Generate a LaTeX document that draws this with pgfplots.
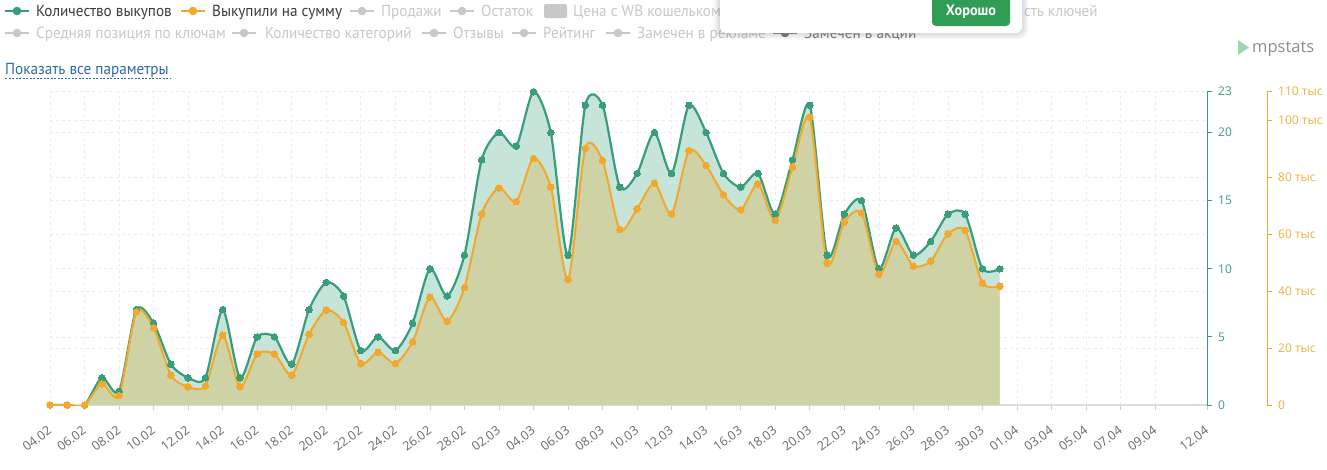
\documentclass[border=0pt]{standalone}
\usepackage{pgfplots}
\usepackage{pgfplotstable}
\pgfplotsset{compat=1.18}
\usepackage{fontspec}
\setmainfont{Open Sans}
\newfontfamily\legfont[FakeStretch=0.95]{PT Sans}
\newfontfamily\numfont{Open Sans}
\definecolor{greenc}{HTML}{3A9D7A}
\definecolor{orangec}{HTML}{F2A82C}
\definecolor{orangetxt}{HTML}{EFB23A}
\definecolor{fillgreen}{HTML}{C6E4D8}
\definecolor{fillolive}{HTML}{CFD2A5}
\definecolor{gridc}{HTML}{EDEDED}
\definecolor{axisgray}{HTML}{DEDEDE}
\definecolor{tickgray}{HTML}{CCCCCC}
\definecolor{labgray}{HTML}{6A6A6A}
\definecolor{legdark}{HTML}{3D3D3D}
\definecolor{leglight}{HTML}{C8C8C8}
\definecolor{linkblue}{HTML}{2C6AA8}
\definecolor{btngreen}{HTML}{2F9E54}
\definecolor{logogreen}{HTML}{9ED8AE}
\definecolor{logogray}{HTML}{8D8D8D}

\pgfplotstableread{
d v
0 0
1 0
2 0
3 2
4 1
5 7
6 6
7 3
8 2
9 2
10 7
11 2
12 5
13 5
14 3
15 7
16 9
17 8
18 4
19 5
20 4
21 6
22 10
23 8
24 11
25 18
26 20
27 19
28 23
29 20
30 11
31 22
32 22
33 16
34 17
35 20
36 17
37 22
38 20
39 17
40 16
41 17
42 14
43 18
44 22
45 11
46 14
47 15
48 10
49 13
50 11
51 12
52 14
53 14
54 10
55 10
}\greendata

\pgfplotstableread{
d v
0 0
1 0
2 0
3 7.4
4 3.3
5 32.7
6 27.1
7 10.5
8 6.4
9 6.7
10 24.5
11 6.4
12 17.9
13 17.9
14 10.5
15 24.8
16 33.3
17 29
18 14.5
19 18.5
20 14.6
21 22.2
22 37.9
23 29.4
24 41.2
25 67.1
26 76.2
27 71.4
28 86.6
29 76.5
30 44.1
31 90.1
32 85.8
33 61.6
34 68.9
35 77.9
36 67.1
37 89.3
38 84.1
39 73.8
40 68.5
41 77.6
42 64.8
43 83.5
44 101
45 49.8
46 64.2
47 67.5
48 45.9
49 57.4
50 48.8
51 50.5
52 60.1
53 61.3
54 42.8
55 41.7
}\orangedata

\newcommand{\legicon}[3]{%
  \draw[#3, line width=2.2bp] ({#1*1bp},{-#2*1bp}) -- ++(24bp,0);
  \fill[#3] ({(#1+12)*1bp},{-#2*1bp}) circle (4.3bp);}
\newcommand{\legtext}[4]{%
  \node[anchor=base west, inner sep=0pt, text=#4, font=\legfont\fontsize{16bp}{18bp}\selectfont] at ({#1*1bp},{-#2*1bp}) {#3};}

\begin{document}
\begin{tikzpicture}
\path[use as bounding box] (0,0) rectangle (1327bp,-470bp);
\fill[white] (0,0) rectangle (1327bp,-470bp);

\begin{axis}[
  at={(50bp,-405bp)}, anchor=south west,
  scale only axis, width=1157bp, height=313.3bp,
  xmin=0, xmax=67, ymin=0, ymax=23,
  axis x line=bottom, axis y line=right,
  axis line style={-},
  x axis line style={draw=axisgray, line width=1.6bp},
  y axis line style={draw=greenc, line width=0.9bp},
  xtick={0,2,...,64,67},
  xticklabels={04.02,06.02,08.02,10.02,12.02,14.02,16.02,18.02,20.02,22.02,24.02,26.02,28.02,02.03,04.03,06.03,08.03,10.03,12.03,14.03,16.03,18.03,20.03,22.03,24.03,26.03,28.03,30.03,01.04,03.04,05.04,07.04,09.04,12.04},
  ytick={0,5,10,15,20,23}, yticklabels={0,5,10,15,20,23},
  extra y ticks={4.1818,8.3636,12.5455,16.7273,20.9091},
  extra y tick labels={},
  extra y tick style={major tick length=0pt, ymajorgrids=true},
  tick align=outside, major tick length=5bp,
  xtick style={draw=tickgray, line width=0.7bp},
  ytick style={draw=greenc, line width=0.9bp},
  xmajorgrids, ymajorgrids,
  major grid style={draw=gridc, line width=0.7bp, dash pattern=on 3bp off 3bp},
  xticklabel style={font=\numfont\fontsize{12.5bp}{13bp}\selectfont, text=labgray, xshift=-3bp, yshift=-15bp, rotate=37, anchor=north east, inner sep=0pt},
  yticklabel style={font=\numfont\fontsize{12bp}{13bp}\selectfont, text=greenc, anchor=west, inner sep=0pt, xshift=6bp},
]
\addplot[draw=none, fill=fillgreen, smooth, tension=0.45] table[x=d,y=v] {\greendata} \closedcycle;
\addplot[draw=none, fill=fillolive, smooth, tension=0.45, y filter/.expression={y*23/110}] table[x=d,y=v] {\orangedata} \closedcycle;
\addplot[greenc, line width=2.2bp, smooth, tension=0.45, mark=*, mark size=3.3bp, mark options={fill=greenc, draw=greenc, line width=0pt}] table[x=d,y=v] {\greendata};
\addplot[orangec, line width=2bp, smooth, tension=0.45, y filter/.expression={y*23/110}, mark=*, mark size=3.3bp, mark options={fill=orangec, draw=orangec, line width=0pt}] table[x=d,y=v] {\orangedata};
\end{axis}

\begin{axis}[
  at={(1267bp,-405bp)}, anchor=south east,
  scale only axis, width=10bp, height=313.3bp,
  xmin=0, xmax=1, ymin=0, ymax=110,
  hide x axis, axis y line=right, axis line style={-},
  y axis line style={draw=orangec, line width=0.9bp},
  ytick={0,20,40,60,80,100,110},
  yticklabels={0,20 тыс,40 тыс,60 тыс,80 тыс,100 тыс,110 тыс},
  tick align=outside, major tick length=5bp,
  ytick style={draw=orangec, line width=0.9bp},
  yticklabel style={font=\numfont\fontsize{12bp}{13bp}\selectfont, text=orangetxt, anchor=west, inner sep=0pt, xshift=6bp},
]
\end{axis}

% legend row 1
\legicon{5}{11}{greenc}
\legtext{36}{16}{Количество выкупов}{legdark}
\legicon{181}{11}{orangec}
\legtext{212}{16}{Выкупили на сумму}{legdark}
\legicon{350}{11}{leglight}
\legtext{381}{16}{Продажи}{leglight}
\legicon{450}{11}{leglight}
\legtext{481}{16}{Остаток}{leglight}
\fill[leglight, rounded corners=2bp] (544bp,-4bp) rectangle (567bp,-18bp);
\legtext{573}{16}{Цена с WB кошельком}{leglight}
\legtext{1024}{16}{сть ключей}{leglight}
% legend row 2
\legicon{5}{33}{leglight}
\legtext{36}{38}{Средняя позиция по ключам}{leglight}
\legicon{232}{33}{leglight}
\legtext{265}{38}{Количество категорий}{leglight}
\legicon{422}{33}{leglight}
\legtext{453}{38}{Отзывы}{leglight}
\legicon{512}{33}{leglight}
\legtext{543}{38}{Рейтинг}{leglight}
\legicon{606}{33}{leglight}
\legtext{637}{38}{Замечен в рекламе}{leglight}
\legicon{773}{33}{gray}
\legtext{804}{38}{Замечен в акции}{gray}

% popup with soft shadow
\foreach \s in {1,...,6} {
  \fill[black, opacity=0.025, rounded corners=8bp] ({(720-\s)*1bp},10bp) rectangle ({(1022+\s)*1bp},{-(33+\s)*1bp});
}
\fill[white, rounded corners=6bp] (720bp,10bp) rectangle (1022bp,-33bp);
\fill[btngreen, rounded corners=4bp] (932bp,6bp) rectangle (1010bp,-26bp);
\node[anchor=base, inner sep=0pt, text=white, font=\legfont\bfseries\fontsize{15bp}{16bp}\selectfont] at (971bp,-15bp) {Хорошо};

% link
\node[anchor=base west, inner sep=0pt, text=linkblue, font=\legfont\fontsize{16bp}{18bp}\selectfont] at (5bp,-74bp) {Показать все параметры};
\draw[linkblue, line width=0.8bp, dash pattern=on 2bp off 1.5bp] (5bp,-78.5bp) -- (170bp,-78.5bp);

% logo
\fill[logogreen] (1238bp,-40bp) -- (1238bp,-55bp) -- (1249bp,-47.5bp) -- cycle;
\node[anchor=base west, inner sep=0pt, text=logogray, font=\numfont\fontsize{16.5bp}{18bp}\selectfont] at (1252bp,-52bp) {mpstats};
\end{tikzpicture}
\end{document}
